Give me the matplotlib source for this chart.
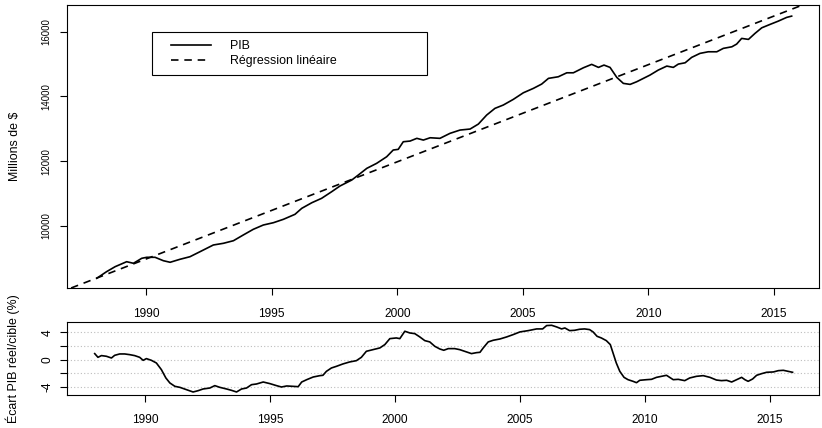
import numpy as np
import matplotlib
matplotlib.use("Agg")
from matplotlib import pyplot as plt
from matplotlib.lines import Line2D
from matplotlib.legend_handler import HandlerLine2D

plt.rcParams["font.family"] = ["Liberation Sans", "DejaVu Sans"]

# PIB réel (millions de $)
pib_annee = [1988.04, 1988.43, 1988.77, 1989.23, 1989.5, 1989.83, 1990.03, 1990.36, 1990.69,
             1990.96, 1991.35, 1991.75, 1992.15, 1992.68, 1993.08, 1993.48, 1993.87, 1994.27,
             1994.67, 1995.07, 1995.47, 1995.93, 1996.2, 1996.6, 1996.99, 1997.39, 1997.72,
             1998.19, 1998.45, 1998.79, 1999.18, 1999.58, 1999.84, 2000.04, 2000.24, 2000.51,
             2000.78, 2001.04, 2001.31, 2001.7, 2002.1, 2002.5, 2002.9, 2003.23, 2003.56,
             2003.89, 2004.22, 2004.62, 2005.02, 2005.42, 2005.75, 2006.02, 2006.41, 2006.75,
             2007.01, 2007.41, 2007.74, 2008.01, 2008.23, 2008.47, 2008.74, 2009.0, 2009.27,
             2009.53, 2009.8, 2010.06, 2010.39, 2010.73, 2010.99, 2011.19, 2011.46, 2011.72,
             2012.05, 2012.38, 2012.72, 2012.98, 2013.32, 2013.51, 2013.71, 2013.98, 2014.24,
             2014.51, 2014.84, 2015.17, 2015.5, 2015.7]
pib = [8386, 8590, 8744, 8898, 8849, 9003, 9034, 9034, 8929,
       8880, 8972, 9052, 9207, 9414, 9466, 9546, 9722, 9898,
       10031, 10102, 10207, 10361, 10546, 10719, 10855, 11059, 11235,
       11420, 11574, 11781, 11935, 12139, 12346, 12367, 12602, 12623,
       12707, 12654, 12725, 12707, 12861, 12963, 12994, 13148, 13426,
       13633, 13735, 13910, 14114, 14250, 14383, 14559, 14608, 14731,
       14731, 14886, 14991, 14898, 14969, 14898, 14589, 14404, 14373,
       14454, 14559, 14660, 14815, 14938, 14898, 15000, 15040, 15207,
       15330, 15380, 15380, 15485, 15534, 15617, 15793, 15762, 15947,
       16120, 16225, 16327, 16441, 16481]

# écart PIB réel / cible (%)
ecart_annee = [1987.97, 1988.1, 1988.24, 1988.44, 1988.64, 1988.77, 1988.97, 1989.17, 1989.37,
               1989.57, 1989.77, 1989.91, 1990.04, 1990.24, 1990.44, 1990.64, 1990.82, 1990.98,
               1991.18, 1991.38, 1991.64, 1991.91, 1992.11, 1992.31, 1992.58, 1992.78, 1992.98,
               1993.25, 1993.45, 1993.65, 1993.85, 1994.05, 1994.25, 1994.45, 1994.72, 1994.99,
               1995.25, 1995.45, 1995.66, 1995.92, 1996.12, 1996.26, 1996.46, 1996.72, 1996.99,
               1997.11, 1997.25, 1997.45, 1997.65, 1997.91, 1998.18, 1998.45, 1998.65, 1998.85,
               1999.12, 1999.39, 1999.59, 1999.79, 2000.05, 2000.19, 2000.39, 2000.59, 2000.79,
               2000.99, 2001.19, 2001.39, 2001.59, 2001.79, 2001.95, 2002.13, 2002.39, 2002.59,
               2002.86, 2003.06, 2003.26, 2003.4, 2003.53, 2003.73, 2003.93, 2004.2, 2004.47,
               2004.73, 2005.0, 2005.33, 2005.67, 2005.91, 2006.07, 2006.27, 2006.47, 2006.67,
               2006.8, 2006.99, 2007.19, 2007.39, 2007.59, 2007.79, 2007.93, 2008.09, 2008.26,
               2008.46, 2008.62, 2008.73, 2008.86, 2009.0, 2009.17, 2009.33, 2009.53, 2009.67,
               2009.8, 2010.07, 2010.27, 2010.47, 2010.67, 2010.87, 2011.0, 2011.14, 2011.34,
               2011.6, 2011.8, 2012.07, 2012.34, 2012.61, 2012.87, 2013.07, 2013.28, 2013.48,
               2013.68, 2013.88, 2014.01, 2014.14, 2014.32, 2014.48, 2014.68, 2014.88, 2015.15,
               2015.35, 2015.55, 2015.75, 2015.92]
ecart = [0.88, 0.34, 0.59, 0.49, 0.24, 0.63, 0.83, 0.83, 0.73,
         0.59, 0.34, -0.1, 0.15, -0.1, -0.49, -1.46, -2.68, -3.41,
         -3.9, -4.05, -4.39, -4.73, -4.54, -4.29, -4.15, -3.8, -4.05,
         -4.29, -4.49, -4.73, -4.29, -4.15, -3.66, -3.56, -3.27, -3.51,
         -3.8, -4.0, -3.85, -3.9, -3.95, -3.27, -2.93, -2.54, -2.34,
         -2.29, -1.71, -1.22, -0.98, -0.63, -0.34, -0.15, 0.34, 1.22,
         1.46, 1.71, 2.2, 3.07, 3.17, 3.07, 4.15, 3.9, 3.8,
         3.32, 2.78, 2.59, 1.95, 1.56, 1.37, 1.61, 1.61, 1.46,
         1.12, 0.88, 1.02, 1.07, 1.71, 2.59, 2.83, 3.02, 3.32,
         3.66, 4.05, 4.24, 4.49, 4.49, 4.98, 5.02, 4.78, 4.49,
         4.63, 4.24, 4.29, 4.44, 4.49, 4.39, 4.05, 3.41, 3.17,
         2.78, 2.2, 0.98, -0.49, -1.71, -2.59, -2.93, -3.17, -3.37,
         -3.02, -2.93, -2.88, -2.59, -2.44, -2.29, -2.59, -2.93, -2.88,
         -3.07, -2.68, -2.44, -2.34, -2.59, -2.98, -3.07, -3.02, -3.27,
         -2.93, -2.59, -2.93, -3.17, -2.83, -2.29, -2.05, -1.85, -1.8,
         -1.61, -1.56, -1.71, -1.85]

annees_ticks = [1990, 1995, 2000, 2005, 2010, 2015]
pib_ticks = [10000, 12000, 14000, 16000]
ecart_ticks = [-4, -2, 0, 2, 4]
ecart_labels = ["-4", "", "0", "", "4"]

# droite de régression linéaire du PIB sur le temps
pente, origine = np.polyfit(pib_annee, pib, 1)

fig = plt.figure(figsize=(8.22, 4.28), dpi=100)
ax1 = fig.add_axes([0.0815, 0.3271, 0.9149, 0.6612])
ax2 = fig.add_axes([0.0815, 0.0771, 0.9149, 0.1699])

ax1.plot(pib_annee, pib, color="black", lw=1.2, label="PIB")
ax1.axline((2000, origine + pente * 2000), slope=pente, color="black", lw=1.2,
           dashes=(4.5, 3.5), label="Régression linéaire")
ax1.set_xlim(1986.855, 2016.79)
ax1.set_ylim(8086, 16824)
ax1.set_xticks(annees_ticks)
ax1.set_yticks(pib_ticks)
ax1.set_ylabel("Millions de $", fontsize=8.9)
ax1.yaxis.set_label_coords(-0.061, 0.5)
ax1.tick_params(axis="x", labelsize=8.6, pad=9.5, length=5, width=0.8)
ax1.tick_params(axis="y", labelsize=6.9, pad=6.5, length=5, width=0.8, labelrotation=90)
for lab in ax1.get_yticklabels():
    lab.set_va("center")
leg = ax1.legend(loc="upper left", bbox_to_anchor=(0.1126, 0.9056, 0.3657, 0.0), mode="expand",
                 borderaxespad=0, fontsize=8.9, handlelength=5.0, handletextpad=0.67,
                 numpoints=2, handler_map={Line2D: HandlerLine2D(marker_pad=0.89)},
                 borderpad=0.7, labelspacing=0.2, fancybox=False, edgecolor="black",
                 framealpha=1)
leg.get_frame().set_linewidth(0.8)

ax2.plot(ecart_annee, ecart, color="black", lw=1.2)
ax2.set_xlim(1986.86, 2016.98)
ax2.set_ylim(-5.17, 5.46)
ax2.set_xticks(annees_ticks)
ax2.set_yticks(ecart_ticks)
ax2.set_yticklabels(ecart_labels)
ax2.yaxis.grid(True, color="#bdbdbd", linestyle=(0, (1, 2)), lw=0.8)
ax2.set_axisbelow(True)
ax2.set_ylabel("Écart PIB réel/cible (%)", fontsize=8.9)
ax2.yaxis.set_label_coords(-0.0624, 0.5)
ax2.tick_params(axis="x", labelsize=8.6, pad=9.0, length=5, width=0.8)
ax2.tick_params(axis="y", labelsize=8.6, pad=4.5, length=5, width=0.8, labelrotation=90)
for lab in ax2.get_yticklabels():
    lab.set_va("center")

for ax in (ax1, ax2):
    for sp in ax.spines.values():
        sp.set_linewidth(0.8)
        sp.set_color("black")

fig.savefig("out.png", dpi=100)
